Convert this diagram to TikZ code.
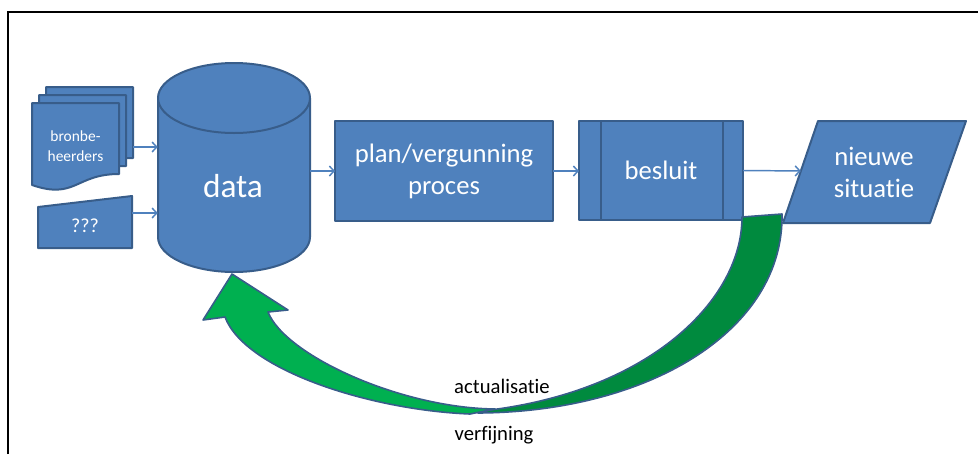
\documentclass[tikz,border=0pt]{standalone}
\usepackage{fontspec}
\setmainfont{Carlito}[RawFeature=-liga]
\usetikzlibrary{arrows.meta,calc}
\definecolor{boxfill}{HTML}{4F81BD}
\definecolor{boxline}{HTML}{385D8A}
\definecolor{greenlight}{HTML}{00B050}
\definecolor{greendark}{HTML}{008A3E}

\begin{document}
\begin{tikzpicture}[x=0.75pt,y=-0.75pt,
  shapebox/.style={fill=boxfill,draw=boxline,line width=1.5pt,line join=round,outer sep=0pt},
  whitetext/.style={text=white,align=center,inner sep=0pt},
  blacktext/.style={text=black,align=center,inner sep=0pt,font=\fontsize{15.5pt}{18pt}\selectfont},
  conn/.style={draw=boxfill,line width=1.1pt,-{Straight Barb[length=3.5pt,width=7.5pt,line width=1.1pt]}},
  bigfont/.style={font=\fontsize{20pt}{24pt}\selectfont},
  bandline/.style={draw=boxline,line width=1.2pt,line join=round}
]
\useasboundingbox (0,0) rectangle (978,454);

% frame
\draw[black,line width=0.9pt] (8,454) -- (8,12) -- (978,12);

% stacked documents
\foreach \dx/\dy in {14/-16,7/-8,0/0}{
  \path[shapebox] (32+\dx,103+\dy) -- (119+\dx,103+\dy) -- (119+\dx,174+\dy)
     .. controls (75.5+\dx,174+\dy) and (75.5+\dx,200+\dy) .. (32+\dx,185+\dy) -- cycle;
}
\node[inner sep=0pt,minimum width=75.75pt,minimum height=75pt] (docs) at (82.5,137) {};
\node[whitetext,font=\fontsize{11.6pt}{15pt}\selectfont] (docstxt) at (75.5,146) {bronbe-\\heerders};

% manual input
\path[shapebox] (38,207) -- (132,196) -- (132,248) -- (38,248) -- cycle;
\node[inner sep=0pt,minimum width=70.5pt,minimum height=39pt] (unknown) at (85,222) {};
\node[whitetext,font=\fontsize{15pt}{17pt}\selectfont] (unknowntxt) at (85,226) {???};

% data cylinder
\path[shapebox] (158,98) -- (158,237) .. controls (158,256.3) and (192,272) .. (234,272)
   .. controls (276,272) and (310,256.3) .. (310,237) -- (310,98) -- cycle;
\draw[shapebox] (234,98) ellipse [x radius=76,y radius=35];
\node[inner sep=0pt,minimum width=114pt,minimum height=156.75pt] (data) at (234,167.5) {};
\node[whitetext,font=\fontsize{25pt}{30pt}\selectfont] (datatxt) at (233,186) {data};

% process box
\node[shapebox,whitetext,bigfont,minimum width=163.5pt,minimum height=75pt] (plan) at (444,171) {plan/vergunning\\proces};

% predefined process box
\node[shapebox,whitetext,bigfont,minimum width=123pt,minimum height=74.25pt] (besluit) at (661,170.5) {besluit};
\draw[boxline,line width=1.5pt] ([xshift=16.5pt]besluit.north west) -- ([xshift=16.5pt]besluit.south west);
\draw[boxline,line width=1.5pt] ([xshift=-15pt]besluit.north east) -- ([xshift=-15pt]besluit.south east);

% data parallelogram
\coordinate (pTL) at (818,121);
\coordinate (pTR) at (966,121);
\coordinate (pBR) at (930,223);
\coordinate (pBL) at (783,223);
\path[shapebox] (pTL) -- (pTR) -- (pBR) -- (pBL) -- cycle;
\node[whitetext,bigfont] (situatie) at (874,172) {nieuwe\\situatie};

% connectors
\coordinate (row1) at (0,147);
\coordinate (row2) at (0,213);
\draw[conn] (docs.east |- row1) -- (data.west |- row1);
\draw[conn] (unknown.east |- row2) -- (data.west |- row2);
\draw[conn] (data.east |- plan.west) -- (plan.west);
\draw[conn] (plan.east) -- (besluit.west |- plan.east);
\draw[conn] (besluit.east) -- ($(pBL)!0.51!(pTL)$);

% curved feedback arrow
\path[fill=greendark,bandline] (742,217) -- (782,214)
   .. controls (784,330) and (650,412) .. (478,413) -- (490,410)
   .. controls (650,390) and (742,300) .. (742,217) -- cycle;
\path[fill=greenlight,bandline] (495,409)
   .. controls (400,408) and (285,355) .. (268,312) -- (288,310) -- (232,274) -- (203,320) -- (225,317)
   .. controls (245,370) and (370,410) .. (470,414) -- cycle;

\node[blacktext] (actual) at (502,386) {actualisatie};
\node[blacktext] (verfijn) at (494,435) {verfijning};
\end{tikzpicture}
\end{document}
